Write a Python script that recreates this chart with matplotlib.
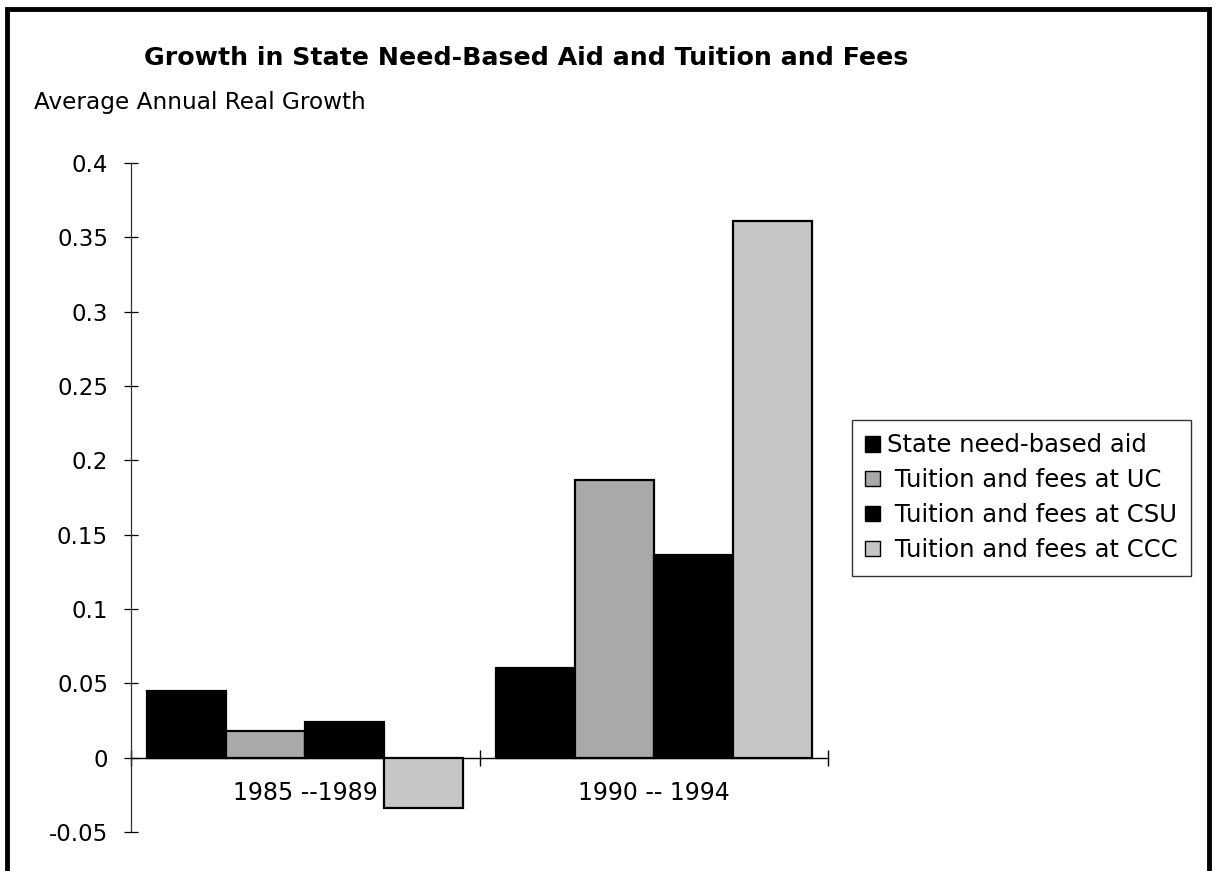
import matplotlib
matplotlib.use("Agg")
import matplotlib.pyplot as plt
from matplotlib.patches import Rectangle
import numpy as np

plt.rcParams['font.family'] = ['DejaVu Sans']

# Data
periods = ["1985 --1989", "1990 -- 1994"]
series_names = ["State need-based aid", " Tuition and fees at UC",
                " Tuition and fees at CSU", " Tuition and fees at CCC"]
state_aid = [0.045, 0.060]
uc_fees = [0.018, 0.187]
csu_fees = [0.024, 0.136]
ccc_fees = [-0.034, 0.361]
yticks = [-0.05, 0, 0.05, 0.1, 0.15, 0.2, 0.25, 0.3, 0.35, 0.4]
ytick_labels = ["-0.05", "0", "0.05", "0.1", "0.15", "0.2", "0.25", "0.3", "0.35", "0.4"]

series = [state_aid, uc_fees, csu_fees, ccc_fees]
colors = ["#000000", "#a9a9a9", "#000000", "#c6c6c6"]

fig = plt.figure(figsize=(12.16, 8.71), dpi=100)
ax = fig.add_axes([131/1216, 1-832/871, (828-131)/1216, (832-163)/871])

x = np.arange(len(periods))
w = 0.227
for i, (vals, c, name) in enumerate(zip(series, colors, series_names)):
    ax.bar(x + (i - 1.5) * w, vals, width=w, color=c, edgecolor="black",
           linewidth=1.6, label=name, zorder=3)

ax.set_xlim(-0.5, 1.5)
ax.set_ylim(-0.05, 0.4)

for s in ["top", "right"]:
    ax.spines[s].set_visible(False)
ax.spines["bottom"].set_position(("data", 0))
ax.spines["bottom"].set_linewidth(1.0)
ax.spines["left"].set_linewidth(0.9)
ax.spines["left"].set_color("#333333")

ax.set_yticks(yticks)
ax.set_yticklabels(ytick_labels, fontsize=16.5)
ax.tick_params(axis="y", direction="inout", length=10, width=0.9, pad=11.5)

ax.set_xticks([-0.5, 0.5, 1.5])
ax.set_xticklabels([])
ax.tick_params(axis="x", which="major", direction="inout", length=12, width=1.0)
ax.set_xticks(x, minor=True)
ax.set_xticklabels(periods, minor=True, fontsize=17)
ax.tick_params(axis="x", which="minor", length=0, pad=17)

fig.text(526/1216, 1-58/871, "Growth in State Need-Based Aid and Tuition and Fees",
         ha="center", va="center", fontsize=18.2, fontweight="bold")
fig.text(34/1216, 1-103/871, "Average Annual Real Growth", ha="left", va="center",
         fontsize=16.7)

leg = fig.legend(loc="upper left", bbox_to_anchor=(852/1216, 1-420/871),
                 bbox_transform=fig.transFigure, fontsize=17.5, frameon=True,
                 fancybox=False, edgecolor="black", handlelength=0.6,
                 handleheight=0.6, handletextpad=0.3, labelspacing=0.45,
                 borderpad=0.55, borderaxespad=0)
leg.get_frame().set_linewidth(1.0)
for h in leg.legend_handles:
    h.set_linewidth(1.0)

# Outer frame
fig.patches.append(Rectangle((7/1216, -0.05), (1209-7)/1216, 1.05 - 9/871,
                             transform=fig.transFigure, fill=False,
                             edgecolor="black", linewidth=3.5))

fig.savefig("out.png", dpi=100)
